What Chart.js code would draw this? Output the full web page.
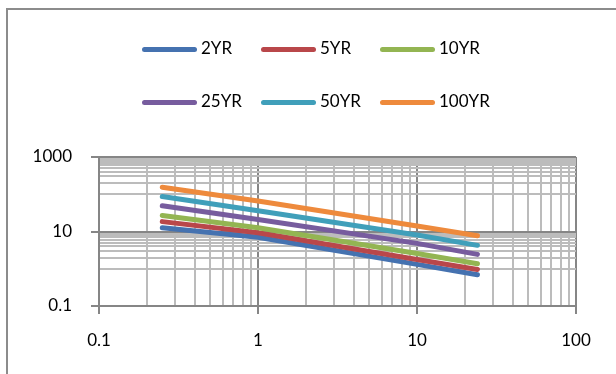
<!DOCTYPE html>
<html>
<head>
<meta charset="utf-8">
<script src="https://cdn.jsdelivr.net/npm/chart.js@4/dist/chart.umd.min.js"></script>
<style>
  html, body { margin: 0; padding: 0; background: #fff; }
  #wrap { position: relative; width: 616px; height: 374px; overflow: hidden; }
  #frame { position: absolute; left: 6px; top: 8px; width: 800px; height: 600px; border: 2px solid #8c8c8c; }
  #chart { position: absolute; left: 0; top: 0; }
  .leg { position: absolute; display: flex; align-items: center; font-family: Lato, sans-serif; font-size: 17px; color: #000; }
  .leg .swatch { display: inline-block; width: 55px; height: 5px; border-radius: 3px; margin-right: 4px; margin-top: 4px; }
</style>
</head>
<body>
<div id="wrap">
  <div id="frame"></div>
  <canvas id="chart" width="616" height="374"></canvas>
  <div id="legend"></div>
</div>
<script>
// Duration (hours) and intensity per return period
const durations = [0.25, 1, 10, 24];
const yr2   = [12.6, 7.0, 1.31, 0.69];
const yr5   = [18.4, 9.3, 1.78, 0.96];
const yr10  = [27, 12.6, 2.58, 1.36];
const yr25  = [49, 21, 4.8, 2.43];
const yr50  = [87, 36, 8.05, 4.25];
const yr100 = [155, 66, 14.1, 7.7];

const seriesNames = ['2YR', '5YR', '10YR', '25YR', '50YR', '100YR'];
const seriesValues = [yr2, yr5, yr10, yr25, yr50, yr100];
const seriesColors = ['#4572B0', '#B9474A', '#93B552', '#775C9E', '#409FBA', '#EE8A3C'];

// Axis ticks
const xMajorTicks = [0.1, 1, 10, 100];
const xMinorTicks = [0.2, 0.3, 0.4, 0.5, 0.6, 0.7, 0.8, 0.9, 2, 3, 4, 5, 6, 7, 8, 9, 20, 30, 40, 50, 60, 70, 80, 90];
const yMajorTicks = [0.1, 10, 1000];
const yMinorTicks = [1, 2, 3, 4, 5, 6, 7, 8, 9, 100, 200, 300, 400, 500, 600, 700, 800, 900];

const MAJOR_GRID = '#868686';
const MINOR_GRID = '#bcbcbc';

function buildTicks(majors, minors) {
    return majors.concat(minors).sort((a, b) => a - b).map(v => ({ value: v, major: majors.includes(v) }));
}

function gridOpts(majors) {
    return {
        color: ctx => (ctx.tick && majors.includes(ctx.tick.value)) ? MAJOR_GRID : MINOR_GRID,
        lineWidth: 2,
        tickColor: ctx => (ctx.tick && majors.includes(ctx.tick.value)) ? MAJOR_GRID : 'rgba(0,0,0,0)',
        tickLength: 8,
        tickWidth: 2
    };
}

const datasets = seriesNames.map((name, i) => ({
    label: name,
    data: durations.map((d, j) => ({ x: d, y: seriesValues[i][j] })),
    borderColor: seriesColors[i],
    backgroundColor: seriesColors[i],
    borderWidth: 5,
    borderCapStyle: 'round',
    borderJoinStyle: 'round',
    pointRadius: 0,
    showLine: true,
    order: seriesNames.length - i
}));

const tickFont = { family: 'Lato', size: 17 };

new Chart(document.getElementById('chart'), {
    type: 'scatter',
    data: { datasets: datasets },
    options: {
        responsive: false,
        animation: false,
        layout: { padding: { top: 157, right: 40, left: 0, bottom: 0 } },
        plugins: { legend: { display: false }, tooltip: { enabled: false } },
        scales: {
            x: {
                type: 'logarithmic',
                min: 0.1,
                max: 100,
                afterBuildTicks: scale => { scale.ticks = buildTicks(xMajorTicks, xMinorTicks); },
                afterFit: scale => { scale.height = 68; },
                grid: gridOpts(xMajorTicks),
                border: { color: MAJOR_GRID, width: 2 },
                ticks: {
                    autoSkip: false,
                    maxRotation: 0,
                    padding: 16,
                    color: '#000',
                    font: tickFont,
                    callback: v => xMajorTicks.includes(v) ? String(v) : ''
                }
            },
            y: {
                type: 'logarithmic',
                min: 0.1,
                max: 1000,
                afterBuildTicks: scale => { scale.ticks = buildTicks(yMajorTicks, yMinorTicks); },
                afterFit: scale => { scale.width = 99; },
                grid: gridOpts(yMajorTicks),
                border: { color: MAJOR_GRID, width: 2 },
                ticks: {
                    autoSkip: false,
                    padding: 19,
                    color: '#000',
                    font: tickFont,
                    callback: v => yMajorTicks.includes(v) ? String(v) : ''
                }
            }
        }
    }
});

// Legend, two rows of three like the original
const legend = document.getElementById('legend');
const legendCols = [142, 261, 380];
const legendRows = [37, 90];
seriesNames.forEach((name, i) => {
    const item = document.createElement('div');
    item.className = 'leg';
    item.style.left = legendCols[i % 3] + 'px';
    item.style.top = legendRows[Math.floor(i / 3)] + 'px';
    item.innerHTML = '<span class="swatch" style="background:' + seriesColors[i] + '"></span><span>' + name + '</span>';
    legend.appendChild(item);
});
</script>
</body>
</html>
